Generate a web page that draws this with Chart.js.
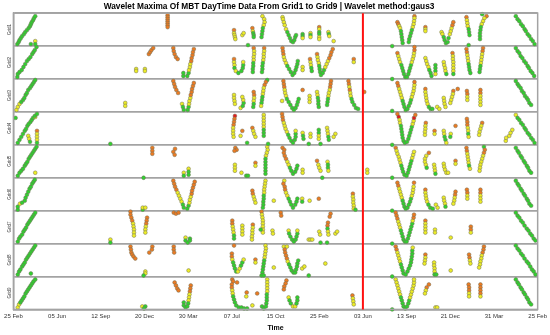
<!DOCTYPE html>
<html>
<head>
<meta charset="utf-8">
<script src="https://cdn.jsdelivr.net/npm/chart.js@4"></script>
<style>
html, body { margin: 0; padding: 0; background: #fff; }
</style>
</head>
<body>
<canvas id="wavelet" width="550" height="335"></canvas>
<script>
// x = day offset from the first tick (ticks every 100 samples), y = wavelet scale (0..33)
// each point: [day, scale, level]  level 0 green, 1 yellow, 2 orange, 3 red
const tickLabels = ['25 Feb', '05 Jun', '12 Sep', '20 Dec', '30 Mar', '07 Jul', '15 Oct', '25 Feb', '03 Jun', '13 Sep', '21 Dec', '31 Mar', '25 Feb'];
const splitDay = 800; // red marker on 03 Jun
const levelColors = ['#2fd12f', '#ecec26', '#ec7a22', '#e41b1b'];

const grid1 = [
  [9,2,0],[12,4,0],[14,6,0],[17,8,0],[20,10,0],[24,12,0],[27,14,0],[31,16,0],[35,18,0],[38,20,0],[40,22,0],[42,24,0],[45,26,0],[47,28,0],[50,30,0],
  [40,2,0],[50,5,1],[50,2,0],
  [353,31,2],[353,29,2],[353,27,2],[353,25,2],[353,23,2],[353,21,2],[353,19,2],
  [505,16,2],[505,13,1],[506,11,1],[507,9,1],[508,7,1],[524,11,1],[527,13,1],
  [547,18,2],[548,15,1],[549,13,0],[550,11,0],[550,9,0],[537,1,0],
  [570,30,1],[574,27,1],[575,24,1],[573,21,1],[571,18,0],[570,15,0],[569,12,0],[568,9,0],
  [616,29,1],[617,27,1],[619,24,1],[621,21,1],[624,17,1],[627,14,0],[630,11,0],[633,8,0],[636,5,0],[640,4,0],[643,6,0],[645,9,0],[647,11,0],
  [662,12,0],[662,10,0],[662,8,1],[680,13,1],[680,11,0],[680,9,1],
  [700,19,2],[700,17,1],[700,14,0],[700,12,0],[700,9,1],[700,7,1],
  [721,14,1],[722,12,0],[723,10,1],[733,5,1],
  [867,0,0],
  [879,24,2],[881,22,2],[883,20,1],[885,18,1],[887,15,0],[888,12,0],[889,9,0],[890,6,0],[891,3,0],
  [918,30,2],[918,28,1],[917,25,1],[916,22,1],[914,19,1],[912,16,0],[910,13,0],[908,10,0],[906,7,0],[905,4,0],
  [943,19,2],[943,17,1],[943,15,1],
  [980,14,1],[982,12,1],[985,9,0],[987,6,0],[990,3,0],[994,4,0],[996,8,0],[999,12,1],[1001,15,1],[1003,18,1],[1005,21,2],[1007,24,2],
  [1037,29,2],[1038,26,1],[1039,23,1],[1040,20,1],[1042,17,0],[1043,14,0],[1044,11,0],[1042,1,0],
  [1073,32,0],[1083,30,2],[1078,28,1],[1075,25,1],[1072,22,1],[1070,19,0],[1069,16,0],[1068,13,0],[1068,10,0],[1068,7,0],
  [1150,30,0],[1154,27,0],[1158,25,0],[1162,22,0],[1166,20,0],[1170,17,0],[1173,15,0],[1177,12,0],[1181,10,0],[1185,7,0],[1189,5,0],[1193,2,0]
];

const grid2 = [
  [9,2,0],[10,5,0],[14,7,0],[19,9,0],[23,12,0],[27,15,0],[31,18,0],[35,20,0],[39,22,0],[43,25,0],[46,27,0],[49,29,0],[53,32,0],
  [281,10,1],[281,8,1],[301,10,1],[301,8,1],
  [310,25,2],[313,27,2],[316,29,2],[320,31,2],
  [366,31,2],[367,28,2],[369,25,2],[372,22,2],[376,20,2],
  [389,3,0],[389,6,0],
  [398,3,0],[401,6,0],[402,9,1],[404,12,1],[405,15,1],[407,18,2],[408,21,2],[410,24,2],[411,27,2],[413,30,2],
  [505,20,2],[505,17,1],[506,14,1],[506,11,0],[509,8,1],[515,6,0],[522,8,0],[525,11,0],[526,14,0],[526,17,1],
  [550,31,2],[551,28,1],[551,25,1],[550,22,1],[550,19,1],[549,16,0],[549,13,0],[548,10,0],[548,7,0],
  [574,31,2],[574,28,1],[573,25,1],[573,22,1],[572,19,1],[571,16,0],[570,13,0],[570,10,0],[569,7,0],
  [616,31,2],[617,28,2],[618,25,2],[619,22,1],[621,19,1],[624,16,1],[627,13,0],[631,10,0],[635,7,0],[639,4,0],[643,6,0],[646,9,0],[648,12,0],[650,15,0],[651,18,0],
  [662,12,1],[662,9,1],
  [679,20,2],[680,17,1],[681,14,1],[682,11,0],[683,8,0],
  [695,25,2],[696,22,1],[697,19,1],[699,16,1],[700,13,0],[701,10,0],[702,7,0],[704,4,0],[708,6,0],[711,9,0],[714,12,1],[717,15,1],[720,18,1],[723,21,2],[726,24,2],[728,27,2],[731,30,2],
  [779,20,2],[779,17,1],
  [867,0,0],
  [879,26,2],[881,23,1],[883,20,1],[885,17,1],[888,14,0],[890,11,0],[892,8,0],[894,5,0],[897,2,0],[901,2,0],[904,5,0],[906,8,0],[908,11,0],[910,14,0],[912,17,1],[914,20,1],[916,23,1],[917,26,1],[918,29,2],[918,32,2],
  [943,21,1],[945,18,1],[947,15,1],[950,12,1],[952,9,0],[955,6,0],[957,3,0],
  [966,14,0],[966,11,0],[966,8,0],[966,5,1],
  [985,17,1],[986,14,1],[988,11,1],[989,8,1],[991,5,0],
  [1005,26,2],[1006,23,1],[1006,20,1],[1007,17,1],[1007,14,1],[1007,11,1],[1007,8,1],[1007,5,0],
  [1037,30,2],[1038,27,2],[1039,24,1],[1040,21,1],[1041,18,1],[1042,15,0],[1043,12,0],[1044,9,0],[1046,6,0],
  [1075,31,2],[1074,28,2],[1073,25,1],[1072,22,1],[1071,19,1],[1070,16,1],[1069,13,0],[1068,10,0],[1067,7,0],
  [1150,31,0],[1154,28,0],[1158,26,0],[1161,23,0],[1165,21,0],[1169,18,0],[1173,16,0],[1177,13,0],[1180,11,0],[1184,8,0],[1188,6,0],[1192,3,0]
];

const grid3 = [
  [7,2,1],[10,5,1],[14,8,1],[18,10,0],[22,12,0],[25,14,0],[28,17,0],[31,19,0],[34,22,0],[38,24,0],[41,26,0],[44,28,0],[47,30,0],[50,32,0],
  [256,9,1],[256,6,1],
  [366,31,2],[368,28,2],[370,25,2],[373,22,2],[377,19,2],
  [386,8,1],[388,5,0],[390,2,0],
  [399,2,0],[401,5,0],[402,8,1],[403,11,1],[405,14,1],[406,17,2],[408,20,2],[409,23,2],[411,26,2],[413,29,2],
  [505,17,1],[505,14,1],[506,11,1],[507,8,1],
  [520,4,1],[525,6,0],[527,9,0],[526,12,1],[524,15,1],
  [550,20,2],[551,17,2],[551,14,1],[550,11,1],[550,8,0],[549,5,0],
  [581,32,0],[578,30,2],[575,27,2],[573,24,1],[572,21,1],[571,18,1],[570,15,0],[569,12,0],[568,9,0],[567,6,1],
  [618,31,2],[619,28,2],[620,25,2],[621,22,1],[622,19,1],[624,16,1],[615,11,1],
  [626,13,0],[630,10,0],[634,7,0],[638,4,0],[642,2,0],[646,4,0],[649,7,0],[651,10,0],[653,13,0],
  [662,22,2],
  [678,16,1],[678,13,1],[678,10,1],
  [695,20,1],[696,17,1],[697,14,0],[698,11,0],[698,8,0],[699,5,0],
  [727,31,2],[726,28,2],[725,25,2],[724,22,1],[722,19,1],[721,16,1],[720,13,0],[719,10,0],[718,7,0],
  [767,31,2],[768,28,2],[769,25,1],[770,22,2],[771,19,1],[772,16,1],[774,13,0],[776,10,0],[780,7,0],[784,4,0],[789,3,0],
  [803,20,2],
  [867,1,0],
  [879,29,2],[881,26,2],[883,23,1],[885,20,1],[887,17,1],[889,14,1],[891,11,0],[893,8,0],[895,5,0],[898,2,0],[902,3,0],[905,6,0],[908,9,0],[910,12,0],[912,15,1],[914,18,1],[916,21,1],[917,24,1],[918,27,1],[918,30,2],
  [943,23,2],[943,20,1],[944,17,1],[945,14,1],[946,11,1],[948,8,1],[951,5,0],[955,3,0],[959,3,0],
  [970,5,1],[975,3,1],
  [985,14,1],[986,11,1],[987,8,1],[989,5,1],
  [1007,21,2],[1006,18,1],[1004,15,1],[1002,12,1],[1000,9,1],
  [1017,23,2],
  [1038,21,2],[1039,18,2],[1039,15,1],[1039,12,1],
  [1069,22,2],[1069,19,2],[1069,16,1],[1069,13,1],[1069,10,1],[1069,7,1],
  [1150,31,0],[1154,28,0],[1157,26,0],[1161,24,0],[1164,21,0],[1168,19,0],[1171,16,0],[1175,14,0],[1178,12,0],[1181,9,0],[1185,7,0]
];

const grid4 = [
  [5,27,0],
  [10,2,0],[14,5,0],[18,8,0],[22,11,0],[26,14,0],[29,16,0],[32,19,0],[35,21,0],[39,23,0],[42,25,0],[45,27,0],[50,28,1],[49,29,0],[54,31,0],
  [34,9,1],[36,6,1],[38,3,0],
  [54,14,2],[54,11,1],[54,8,1],[54,5,1],[54,2,0],
  [222,1,0],
  [507,29,3],[506,26,2],[505,23,2],[504,20,2],[503,17,1],[503,14,1],[503,11,1],[504,8,1],
  [524,14,2],[520,9,1],[535,2,0],
  [547,17,2],[549,14,1],[551,11,1],[554,8,1],
  [573,30,1],[573,27,1],[573,24,1],[573,21,1],[573,18,1],[573,15,0],[573,12,0],[573,9,0],[583,1,0],
  [615,31,2],[616,28,2],[617,25,2],[619,22,1],[621,19,1],[623,16,1],[626,13,1],[629,10,0],[632,7,0],[636,4,0],[640,2,0],[644,5,0],[646,8,0],[646,11,0],[646,14,1],
  [662,12,1],[663,9,0],[664,6,0],[676,1,0],
  [680,11,1],[680,8,1],
  [699,15,0],[699,12,0],[699,9,1],[699,6,1],[703,1,0],
  [718,17,1],[719,14,1],[720,11,1],[721,8,0],[722,5,0],
  [737,11,1],[733,8,1],
  [867,0,0],
  [879,31,2],[882,28,3],[884,25,1],[885,22,1],[887,19,0],[888,16,0],[889,13,0],[890,10,0],[891,7,0],[893,4,0],[896,2,0],[901,3,0],[904,6,0],[906,9,0],[908,12,0],[910,15,0],[912,18,0],[914,21,1],[916,24,1],[917,27,3],[920,30,2],
  [944,22,2],[943,19,1],[943,16,1],[942,13,1],[942,10,1],
  [964,14,2],[964,11,1],
  [985,14,1],[986,11,1],[987,8,0],[989,5,0],[991,2,1],
  [1001,11,1],[1000,8,0],
  [1012,19,2],
  [1038,26,2],[1039,23,2],[1039,20,2],[1040,17,1],[1041,14,1],[1041,11,0],[1042,8,1],
  [1073,22,2],[1071,19,1],[1069,16,1],[1067,13,1],[1066,10,1],
  [1127,4,1],[1128,7,1],[1135,9,1],[1138,12,1],[1142,15,1],
  [1150,30,1],[1154,27,0],[1158,25,0],[1162,22,0],[1166,20,0],[1170,17,0],[1173,15,0],[1177,12,0],[1181,10,0],[1185,7,0],[1189,5,0],[1193,2,0]
];

const grid5 = [
  [10,2,0],[14,5,0],[18,7,0],[22,9,0],[26,12,0],[29,14,0],[32,16,0],[35,19,0],[38,21,0],[41,23,0],[44,25,0],[47,27,0],[50,29,0],[53,31,0],
  [50,5,1],
  [298,0,0],
  [318,30,2],[318,27,2],[318,24,2],
  [370,29,2],[366,26,2],[369,23,2],
  [390,5,1],[390,2,0],
  [401,9,1],[401,6,0],[401,3,0],
  [508,30,2],[511,28,2],[506,27,2],
  [507,13,1],[507,10,1],[507,7,1],
  [522,5,1],[533,2,0],[537,2,0],
  [554,15,2],[554,12,1],
  [581,31,1],[582,28,1],[580,25,1],[578,22,1],[577,19,0],[577,16,0],[577,13,0],[577,10,0],[577,7,0],[577,4,0],
  [616,30,2],[620,28,2],[619,25,2],[621,22,2],[624,19,2],[627,16,1],[630,13,1],[633,10,0],[636,7,0],[640,4,0],[645,6,0],[648,9,0],[650,12,0],
  [662,8,1],[662,5,1],
  [695,17,2],[698,13,1],[700,10,1],[703,7,1],[707,0,0],
  [719,16,1],[720,13,0],[720,10,0],[721,7,1],
  [810,8,1],[810,5,1],
  [867,0,0],
  [875,30,2],[877,27,1],[879,24,1],[882,21,1],[884,18,1],[886,15,1],[888,12,0],[890,9,0],[892,6,0],[895,3,0],[900,2,0],[903,5,0],[905,8,0],[907,11,0],[909,14,0],[911,17,0],[913,20,1],[915,23,1],[917,26,1],
  [951,25,2],[945,22,1],[942,19,1],[942,16,1],[944,13,1],[946,10,0],
  [963,13,1],[964,10,1],[965,7,1],[966,4,0],
  [985,14,1],[986,11,1],[988,8,1],[991,5,1],[995,5,1],
  [1012,17,2],[1012,14,1],
  [1037,30,2],[1038,27,2],[1039,24,1],[1040,21,1],[1041,18,1],[1042,15,1],[1043,12,0],[1045,9,1],
  [1077,31,0],[1079,28,2],[1077,25,2],[1075,22,1],[1073,19,1],[1071,16,1],[1069,13,1],[1068,10,1],[1067,7,1],
  [1150,30,0],[1154,27,0],[1157,25,0],[1161,22,0],[1164,20,0],[1168,17,0],[1171,15,0],[1175,12,0],[1178,10,0],[1181,7,0],[1185,5,0]
];

const grid6 = [
  [10,1,0],[10,4,0],[15,7,1],[20,8,0],[26,10,0],[28,13,0],[31,16,0],[34,19,0],[37,22,0],[40,24,0],[43,27,0],[46,29,0],[49,31,0],
  [296,1,0],[296,3,1],[302,3,1],
  [366,30,2],[368,27,2],[370,24,2],[373,21,2],[376,18,1],[379,15,1],[382,12,1],[385,9,1],[388,6,0],[390,3,0],
  [398,2,0],[401,5,0],[403,8,1],[404,11,1],[406,14,1],[408,17,2],[409,20,2],[411,23,2],[413,26,2],[415,29,2],
  [547,20,2],[548,17,2],[550,14,1],[552,11,1],[554,8,1],
  [577,30,1],[576,27,1],[575,24,1],[574,21,1],[574,18,1],[573,15,0],[573,12,0],[572,9,0],[572,6,0],[571,3,0],
  [596,10,1],
  [620,30,1],[618,27,2],[621,24,2],[622,21,2],[624,18,1],[627,15,1],[630,12,0],[633,9,0],[636,6,0],[640,3,0],[645,6,0],[648,9,0],[650,12,0],
  [661,12,1],[661,9,0],
  [678,10,1],
  [699,12,2],
  [777,17,2],[777,14,1],[778,11,1],[778,8,1],[779,5,1],[779,2,1],[783,1,0],
  [867,0,0],
  [879,28,2],[881,25,2],[883,22,1],[885,19,1],[887,16,1],[889,13,1],[891,10,0],[893,7,0],[895,4,0],[898,2,0],[902,3,0],[905,6,0],[908,9,0],[910,12,0],[912,15,1],[914,18,1],[915,21,1],[916,24,1],[917,28,2],
  [943,21,2],[943,18,1],[944,15,1],[945,12,1],[947,9,1],[950,6,0],[954,3,0],[960,2,0],
  [967,6,1],[971,3,1],
  [985,13,1],[986,10,1],[988,7,1],[989,4,0],
  [1012,19,2],[1011,16,2],[1010,13,1],[1009,10,1],[1007,7,1],
  [1038,21,2],[1039,18,2],[1039,15,1],[1039,12,1],
  [1069,21,2],[1069,18,2],[1069,15,1],[1069,12,1],[1069,9,1],
  [1150,30,0],[1154,27,0],[1157,25,0],[1161,22,0],[1164,20,0],[1168,17,0],[1171,15,0],[1175,12,0],[1178,10,0],[1181,7,0],[1185,5,0]
];

const grid7 = [
  [10,2,0],[13,5,0],[16,7,0],[20,9,0],[23,12,0],[26,14,0],[29,16,0],[32,19,0],[35,21,0],[38,23,0],[41,25,0],[44,27,0],[47,29,0],[50,31,0],
  [222,4,1],[222,1,0],
  [268,32,2],[268,29,2],[270,26,2],[272,23,2],[274,20,1],[275,17,1],[276,14,1],[276,11,1],[276,8,1],
  [306,26,2],[305,23,2],[304,20,2],[303,17,1],[302,14,1],[302,11,1],
  [367,31,2],[372,30,2],[378,31,2],
  [394,6,1],[394,3,0],[399,1,0],[404,5,0],[404,3,0],
  [501,23,2],[501,20,2],[502,17,1],[503,14,1],[504,11,1],[505,8,0],[505,5,0],
  [524,18,1],[524,15,1],[524,12,1],[524,9,1],
  [548,19,2],[548,16,1],[547,13,1],[547,10,1],[546,7,1],[546,4,1],
  [568,32,2],[569,29,1],[570,26,1],[571,23,1],[571,20,1],[571,17,1],[571,14,1],[571,11,1],[566,14,0],
  [593,13,1],[594,10,1],
  [612,31,2],[613,28,2],
  [630,13,1],[631,10,0],[634,7,0],[638,4,0],[642,2,0],[646,4,0],[648,7,0],[650,10,0],[650,13,1],
  [676,4,1],[680,4,1],[684,4,1],
  [700,12,1],[702,9,1],[703,1,0],[718,1,0],
  [726,30,2],[724,27,2],[720,21,2],[719,18,2],[719,15,0],[720,12,1],[721,9,1],
  [737,10,1],[741,12,1],
  [867,0,0],
  [875,31,2],[877,28,2],[879,25,2],[881,22,1],[883,19,1],[885,16,1],[887,13,0],[889,10,0],[891,7,0],[893,4,0],[896,2,0],[900,2,0],[903,5,0],[905,8,0],[907,11,0],[909,14,0],[911,17,0],[913,20,0],[914,23,1],[916,26,2],[917,29,2],
  [943,23,2],[943,20,1],[943,17,1],[943,14,1],[943,11,1],
  [965,14,1],[965,11,1],
  [1001,6,1],
  [1047,17,2],[1047,14,2],[1047,11,1],
  [1150,31,0],[1154,28,0],[1158,26,0],[1162,23,0],[1166,21,0],[1170,18,0],[1175,15,0],[1179,13,0],[1183,10,0],[1187,8,0],[1191,5,0],[1195,3,0]
];

const grid8 = [
  [10,2,0],[13,5,0],[16,7,0],[20,10,0],[23,12,0],[26,14,0],[29,17,0],[32,19,0],[35,21,0],[38,23,0],[41,25,0],[44,27,0],[47,29,0],[50,31,0],
  [40,3,0],
  [268,30,2],[269,27,2],[270,24,2],[272,22,2],[275,20,2],[279,18,2],
  [318,30,2],[317,27,2],[311,24,2],
  [367,30,2],[367,27,2],[368,24,2],
  [302,5,1],[302,3,1],[298,1,0],
  [401,6,1],
  [505,31,2],
  [500,23,2],[500,20,2],[501,17,1],[503,14,0],[505,11,0],[507,8,0],[510,5,0],[514,5,1],[518,8,1],[521,11,0],[524,14,0],[527,17,1],
  [554,17,2],[554,14,1],
  [577,31,1],[578,28,1],[577,25,1],[576,22,1],[575,19,1],[574,16,0],[573,13,0],[572,10,0],[571,7,0],[570,4,0],[568,1,0],[573,1,0],
  [596,9,1],
  [619,30,1],[626,30,1],
  [621,27,2],[622,24,2],[624,21,2],[626,18,2],[628,15,1],[631,12,0],[634,9,0],[637,6,0],[641,4,0],[645,4,0],[647,7,0],[649,10,0],[650,13,0],[652,16,0],
  [661,8,1],[666,10,1],[676,1,0],
  [714,13,1],
  [867,0,0],
  [875,30,2],[877,27,2],[879,24,1],[881,21,1],[883,18,1],[885,15,1],[887,12,0],[889,9,0],[891,6,0],[893,3,0],[898,2,0],[902,5,0],[905,8,0],[908,11,0],[910,14,0],[911,17,0],[912,20,0],[913,23,0],[913,26,0],[914,29,1],
  [943,22,2],[943,19,1],[942,16,1],[941,13,1],
  [963,14,1],[963,11,1],[964,8,1],[964,5,1],[964,2,0],[968,2,0],
  [1001,6,1],
  [1043,22,2],[1044,19,2],[1045,16,1],[1046,13,1],
  [1077,30,2],[1076,27,2],[1074,24,2],[1072,21,1],[1071,18,1],[1069,15,1],[1068,12,1],[1066,9,1],
  [1150,31,0],[1154,28,0],[1158,26,0],[1162,23,0],[1166,21,0],[1170,18,0],[1175,15,0],[1179,13,0],[1183,10,0],[1187,7,0],[1191,5,0],[1195,2,0]
];

const grid9 = [
  [10,2,1],[13,5,1],[16,7,0],[19,9,0],[22,11,0],[25,13,0],[28,16,0],[31,18,0],[34,20,0],[37,22,0],[40,24,0],[43,26,0],[46,28,0],[50,30,0],
  [295,3,1],[302,3,0],[299,1,0],
  [369,27,2],[372,24,2],[375,21,2],[378,19,2],
  [390,7,0],[390,4,0],[394,2,0],
  [406,24,2],[405,21,2],[404,18,2],[403,15,1],[402,12,1],[401,9,1],[400,6,0],[398,3,0],
  [501,30,2],[503,28,2],[500,25,2],[500,22,2],[501,19,1],[502,16,1],[503,13,0],[505,10,0],[507,7,0],[510,4,0],[516,2,0],[522,2,0],[528,1,0],[535,1,0],
  [512,27,2],[534,17,2],[533,13,1],[547,4,1],[558,16,2],
  [569,3,0],[573,1,0],
  [581,30,1],[581,27,1],[581,24,1],[581,21,1],[581,18,1],[580,15,0],[580,12,0],[580,9,0],[579,6,0],[578,3,0],
  [625,29,2],[623,26,2],[620,23,2],[619,20,2],
  [630,12,1],[632,9,0],[635,6,0],[640,3,1],[645,3,1],[648,6,0],[650,9,0],[650,12,0],
  [776,14,2],[777,11,1],[778,8,1],[779,5,1],
  [867,0,0],
  [875,30,1],[877,27,1],[879,24,1],[881,21,1],[883,18,1],[885,15,1],[887,12,0],[889,9,0],[891,6,0],[893,3,0],[897,1,0],[901,3,0],[904,6,0],[906,9,0],[908,12,1],[910,15,1],[912,18,1],[914,21,1],[916,24,1],[917,27,1],[917,30,1],
  [951,25,2],[946,22,2],[944,19,1],[942,16,1],
  [966,2,1],[970,2,1],
  [1042,25,2],[1043,22,2],[1043,19,2],[1043,16,1],[1043,13,1],
  [1069,25,2],[1069,22,2],[1069,19,2],[1069,16,2],[1069,13,1],
  [1150,30,0],[1154,27,0],[1157,25,0],[1161,22,0],[1164,20,0],[1168,17,0],[1171,15,0],[1175,12,0],[1178,10,0],[1181,7,0],[1185,5,0]
];

const grids = [grid1, grid2, grid3, grid4, grid5, grid6, grid7, grid8, grid9];
const panelGray = '#a3a3a3';

Chart.defaults.font.family = 'Arial, "Liberation Sans", sans-serif';

// outer frame + red split marker
const framePlugin = {
  id: 'frame',
  afterDatasetsDraw(chart) {
    const {ctx, chartArea: a, scales} = chart;
    const xr = scales.x.getPixelForValue(splitDay);
    ctx.save();
    ctx.strokeStyle = panelGray;
    ctx.lineWidth = 1.5;
    ctx.strokeRect(a.left, a.top, a.right - a.left, a.bottom - a.top);
    ctx.strokeStyle = '#ff1010';
    ctx.lineWidth = 2;
    ctx.beginPath();
    ctx.moveTo(xr, a.top);
    ctx.lineTo(xr, a.bottom);
    ctx.stroke();
    ctx.restore();
  }
};

const scales = {
  x: {
    type: 'linear',
    min: 0,
    max: 1200,
    grid: {display: false, drawTicks: false},
    border: {display: true, color: panelGray, width: 1.5},
    ticks: {
      stepSize: 100,
      autoSkip: false,
      maxRotation: 0,
      padding: 3,
      color: '#333',
      font: {size: 6},
      callback: v => tickLabels[Math.round(v / 100)]
    },
    title: {display: true, text: 'Time', color: '#000', font: {size: 7, weight: 'bold'}, padding: {top: 1, bottom: 3}}
  }
};
grids.forEach((g, i) => {
  scales['y' + (i + 1)] = {
    type: 'linear',
    position: 'left',
    stack: 'grids',
    stackWeight: 1,
    weight: 9 - i,
    min: 0,
    max: 33,
    ticks: {display: false, stepSize: 33},
    grid: {color: panelGray, lineWidth: 1.5, drawTicks: false},
    border: {display: true, color: panelGray, width: 1.5},
    title: {display: true, text: 'Grid' + (i + 1), color: '#444', font: {size: 4.5}, padding: {top: 7, bottom: 1}}
  };
});

new Chart(document.getElementById('wavelet'), {
  type: 'scatter',
  data: {
    datasets: grids.map((g, i) => ({
      label: 'Grid' + (i + 1),
      yAxisID: 'y' + (i + 1),
      data: g.map(p => ({x: p[0], y: p[1]})),
      pointRadius: 1.9,
      pointBackgroundColor: g.map(p => levelColors[p[2]]),
      pointBorderColor: '#707058',
      pointBorderWidth: 0.5,
      clip: false
    }))
  },
  options: {
    responsive: false,
    animation: false,
    layout: {padding: {left: 0, right: 12, top: 0, bottom: 0}},
    plugins: {
      legend: {display: false},
      tooltip: {enabled: false},
      title: {
        display: true,
        text: 'Wavelet Maxima Of MBT DayTime Data From Grid1 to Grid9 | Wavelet method:gaus3',
        color: '#000',
        font: {size: 8.3, weight: 'bold'},
        padding: {top: 2, bottom: 1.2}
      }
    },
    scales
  },
  plugins: [framePlugin]
});
</script>
</body>
</html>
